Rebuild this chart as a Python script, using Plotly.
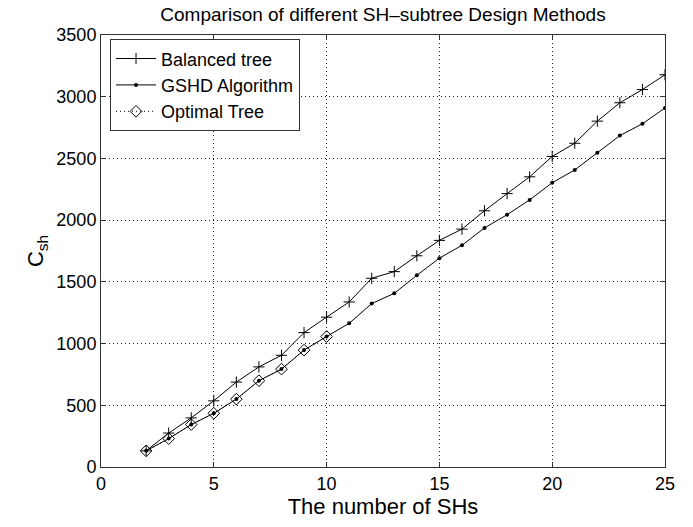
import plotly.graph_objects as go

# Number of SHs for each design method
n_sh = list(range(2, 26))
n_sh_optimal = list(range(2, 11))

# Cost C_sh per method
balanced_tree = [131, 275, 398, 536, 688, 811, 905, 1089, 1214, 1337, 1529, 1583,
                 1711, 1836, 1927, 2076, 2215, 2351, 2516, 2623, 2802, 2951, 3058, 3178]
gshd_algorithm = [131, 230, 344, 435, 550, 699, 793, 947, 1057, 1164, 1324, 1407,
                  1553, 1692, 1796, 1937, 2044, 2164, 2303, 2407, 2546, 2685, 2781, 2909]
optimal_tree = [131, 230, 344, 435, 550, 699, 793, 947, 1057]

FONT = "Liberation Sans, Arial, Helvetica, sans-serif"

fig = go.Figure()
fig.add_trace(go.Scatter(
    x=n_sh, y=balanced_tree, name="Balanced tree", mode="lines+markers",
    line=dict(color="black", width=1),
    marker=dict(symbol="cross-thin-open", size=8, color="black",
                line=dict(color="black", width=1)),
))
fig.add_trace(go.Scatter(
    x=n_sh, y=gshd_algorithm, name="GSHD Algorithm", mode="lines+markers",
    line=dict(color="black", width=1),
    marker=dict(symbol="circle", size=4, color="black"),
))
fig.add_trace(go.Scatter(
    x=n_sh_optimal, y=optimal_tree, name="Optimal Tree", mode="lines+markers",
    line=dict(color="black", width=1, dash="1px,3px"),
    marker=dict(symbol="diamond-open", size=9, color="black",
                line=dict(color="black", width=1)),
))

axis_common = dict(
    showline=True, linecolor="#333333", linewidth=1, mirror="allticks",
    ticks="inside", ticklen=5, tickcolor="#333333",
    showgrid=True, gridcolor="#222222", griddash="1px,3px", gridwidth=1,
    zeroline=False, tickfont=dict(family=FONT, size=18, color="black"),
)

fig.update_xaxes(range=[0, 25], dtick=5, **axis_common,
                 title=dict(text="The number of SHs",
                            font=dict(family=FONT, size=22, color="black"),
                            standoff=6))
fig.update_yaxes(range=[0, 3500], dtick=500, **axis_common,
                 title=dict(text="C<sub>sh</sub>",
                            font=dict(family=FONT, size=22, color="black"),
                            standoff=6))

fig.update_layout(
    width=693, height=527,
    margin=dict(l=101, r=28, t=35, b=55),
    paper_bgcolor="white", plot_bgcolor="white",
    title=dict(text="Comparison of different SH\u2013subtree Design Methods",
               xref="paper", x=0.5, xanchor="center",
               yref="container", y=0.985, yanchor="top",
               font=dict(family=FONT, size=19, color="black")),
    legend=dict(x=0.016, y=0.99, xanchor="left", yanchor="top",
                bgcolor="white", bordercolor="#333333", borderwidth=1,
                font=dict(family=FONT, size=18, color="black"),
                tracegroupgap=0, itemwidth=40),
    showlegend=True,
)

fig.write_html("out.html")
